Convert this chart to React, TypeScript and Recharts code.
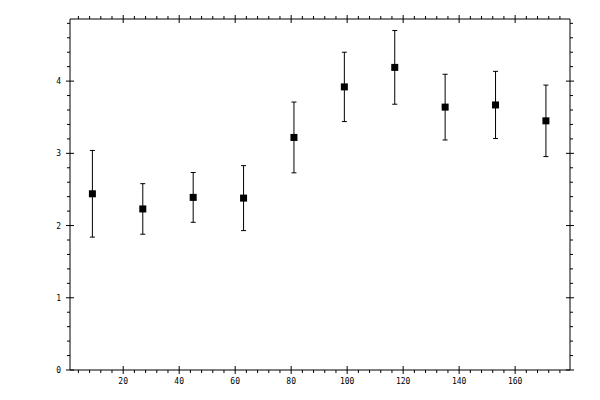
import React from "react";
import { ScatterChart, Scatter, XAxis, YAxis, ErrorBar } from "recharts";

const xValues = [9, 27, 45, 63, 81, 99, 117, 135, 153, 171];
const yValues = [2.44, 2.23, 2.39, 2.38, 3.22, 3.92, 4.19, 3.64, 3.67, 3.45];
const errValues = [0.6, 0.35, 0.345, 0.45, 0.49, 0.48, 0.51, 0.455, 0.465, 0.495];

const xTicks = [4, 8, 12, 16, 20, 24, 28, 32, 36, 40, 44, 48, 52, 56, 60, 64, 68, 72, 76, 80, 84, 88, 92, 96, 100, 104, 108, 112, 116, 120, 124, 128, 132, 136, 140, 144, 148, 152, 156, 160, 164, 168, 172, 176];
const xMajorLabels = [20, 40, 60, 80, 100, 120, 140, 160];
const yTicks = [0, 0.2, 0.4, 0.6, 0.8, 1, 1.2, 1.4, 1.6, 1.8, 2, 2.2, 2.4, 2.6, 2.8, 3, 3.2, 3.4, 3.6, 3.8, 4, 4.2, 4.4, 4.6, 4.8];
const yMajorLabels = [0, 1, 2, 3, 4];

const data = xValues.map((x, i) => ({ x, y: yValues[i], err: errValues[i] }));

const FONT = "DejaVu Sans Mono";

const isMajorX = (v: number) => xMajorLabels.includes(v);
const isMajorY = (v: number) => yMajorLabels.some((m) => Math.abs(m - v) < 1e-6);

const makeXTick = (side: "bottom" | "top") => (props: any) => {
  const { x, y, payload } = props;
  const v = payload.value;
  const major = isMajorX(v);
  const dir = side === "bottom" ? 1 : -1;
  return (
    <g>
      {major ? (
        <line x1={x} x2={x} y1={y - 4} y2={y + 4} stroke="#000" strokeWidth={1} />
      ) : (
        <line x1={x} x2={x} y1={y} y2={y + dir * 3} stroke="#000" strokeWidth={1} />
      )}
      {major && side === "bottom" ? (
        <text x={x} y={y + 14} textAnchor="middle" fontFamily={FONT} fontSize={8} fill="#000">
          {v}
        </text>
      ) : null}
    </g>
  );
};

const makeYTick = (side: "left" | "right") => (props: any) => {
  const { x, y, payload } = props;
  const v = payload.value;
  const major = isMajorY(v);
  const dir = side === "left" ? -1 : 1;
  return (
    <g>
      {major ? (
        <line x1={x - 4} x2={x + 4} y1={y} y2={y} stroke="#000" strokeWidth={1} />
      ) : (
        <line x1={x} x2={x + dir * 3} y1={y} y2={y} stroke="#000" strokeWidth={1} />
      )}
      {major && side === "left" ? (
        <text x={x - 9} y={y + 3} textAnchor="end" fontFamily={FONT} fontSize={8} fill="#000">
          {Math.round(v)}
        </text>
      ) : null}
    </g>
  );
};

const SquareMarker = (props: any) => {
  const { cx, cy } = props;
  return <rect x={cx - 3.5} y={cy - 3.5} width={7} height={7} fill="#000" />;
};

export default function App() {
  return (
    <ScatterChart width={600} height={400} margin={{ top: 0, right: 0, bottom: 0, left: 0 }}>
      <XAxis
        xAxisId="bottom"
        dataKey="x"
        type="number"
        orientation="bottom"
        domain={[1, 179.6]}
        allowDataOverflow
        ticks={xTicks}
        interval={0}
        height={38}
        tickSize={0}
        tickMargin={0}
        tickLine={false}
        axisLine={{ stroke: "#000", strokeWidth: 1 }}
        tick={makeXTick("bottom")}
      />
      <XAxis
        xAxisId="top"
        dataKey="x"
        type="number"
        orientation="top"
        domain={[1, 179.6]}
        allowDataOverflow
        ticks={xTicks}
        interval={0}
        height={11}
        tickSize={0}
        tickMargin={0}
        tickLine={false}
        axisLine={{ stroke: "#000", strokeWidth: 1 }}
        tick={makeXTick("top")}
      />
      <YAxis
        yAxisId="left"
        dataKey="y"
        type="number"
        orientation="left"
        domain={[0, 4.86]}
        allowDataOverflow
        ticks={yTicks}
        interval={0}
        width={62}
        tickSize={0}
        tickMargin={0}
        tickLine={false}
        axisLine={{ stroke: "#000", strokeWidth: 1 }}
        tick={makeYTick("left")}
      />
      <YAxis
        yAxisId="right"
        dataKey="y"
        type="number"
        orientation="right"
        domain={[0, 4.86]}
        allowDataOverflow
        ticks={yTicks}
        interval={0}
        width={38}
        tickSize={0}
        tickMargin={0}
        tickLine={false}
        axisLine={{ stroke: "#000", strokeWidth: 1 }}
        tick={makeYTick("right")}
      />
      <Scatter
        data={data}
        xAxisId="bottom"
        yAxisId="left"
        fill="#000"
        shape={SquareMarker}
        isAnimationActive={false}
      >
        <ErrorBar dataKey="err" direction="y" width={2.5} stroke="#000" strokeWidth={1} isAnimationActive={false} />
      </Scatter>
    </ScatterChart>
  );
}
